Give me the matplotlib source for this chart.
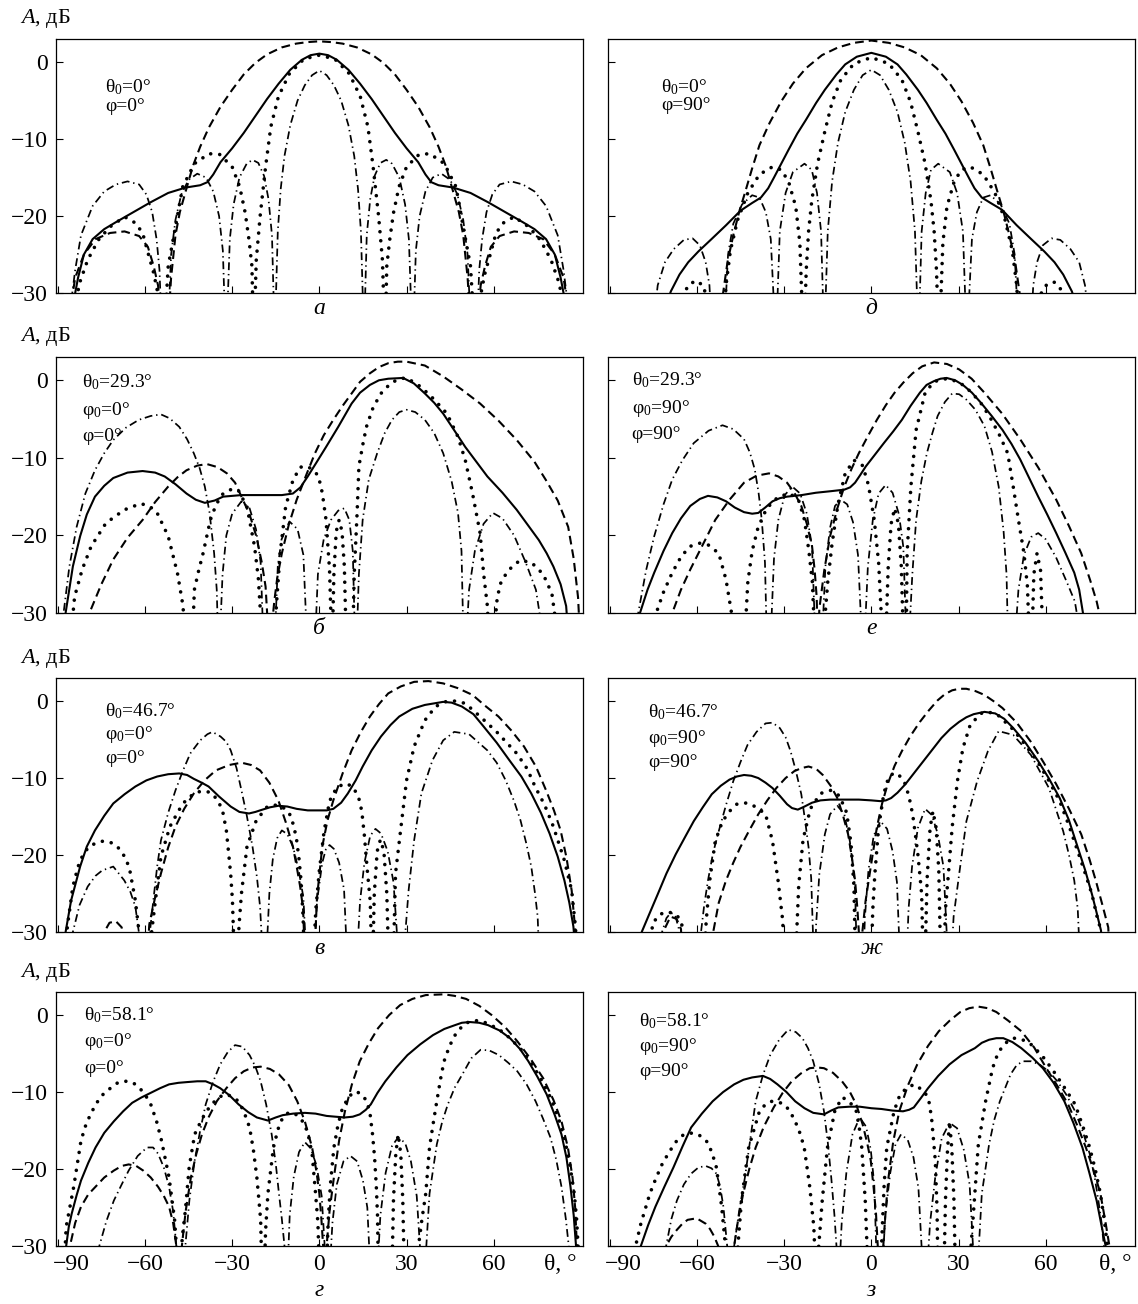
import matplotlib
matplotlib.use('Agg')
import matplotlib.pyplot as plt
from matplotlib.transforms import ScaledTranslation

plt.rcParams['font.family'] = ['Liberation Serif', 'DejaVu Serif']
plt.rcParams['mathtext.fontset'] = 'custom'
plt.rcParams['mathtext.rm'] = 'Liberation Serif'
plt.rcParams['mathtext.it'] = 'Liberation Serif:italic'
plt.rcParams['mathtext.bf'] = 'Liberation Serif:bold'

# ---- data: (theta, A dB); points below -30 are clipped ----

# panel а  (theta0=0, phi=0)
a_solid = [(-85,-32),(-83,-28),(-81,-25),(-78,-23),(-74,-21.7),(-70,-20.8),(-64,-19.5),(-58,-18.2),(-52,-17),(-46,-16.3),(-41,-16),(-38.5,-15.6),(-36.5,-14.6),(-34,-13),(-30,-11.2),(-26,-9.2),(-22,-7),(-18,-4.8),(-14,-2.8),(-10,-1),(-6,0.3),(-3,0.9),(0,1.1),(3,0.9),(6,0.3),(10,-1),(14,-2.8),(18,-4.8),(22,-7),(26,-9.2),(30,-11.2),(34,-13),(36.5,-14.6),(38.5,-15.6),(41,-16),(46,-16.3),(52,-17),(58,-18.2),(64,-19.5),(70,-20.8),(74,-21.7),(78,-23),(81,-25),(83,-28),(85,-32)]
a_dash = [(-86,-33),(-84,-28),(-81,-25),(-77,-23),(-72,-22.2),(-67,-22),(-62,-22.6),(-59,-24),(-57,-26.5),(-55.5,-29),(-54.5,-33),
          (-52,-34),(-51,-28),(-49.5,-22.5),(-48,-19.5),(-46,-16.8),(-43.5,-13.5),(-41,-11),(-38,-8.5),(-34,-5.8),(-30,-3.6),(-26,-1.6),(-22,-0.1),(-18,1),(-13,1.9),(-8,2.4),(-4,2.6),(0,2.7),
          (4,2.6),(8,2.4),(13,1.9),(18,1),(22,-0.1),(26,-1.6),(30,-3.6),(34,-5.8),(38,-8.5),(41,-11),(43.5,-13.5),(46,-16.8),(48,-19.5),(49.5,-22.5),(51,-28),(52,-34),
          (54.5,-33),(55.5,-29),(57,-26.5),(59,-24),(62,-22.6),(67,-22),(72,-22.2),(77,-23),(81,-25),(84,-28),(86,-33)]
a_dot = [(-85,-33),(-82.3,-28.5),(-79.7,-25.7),(-76,-23.1),(-72,-21.4),(-67,-20.1),(-63.3,-20.9),(-60.8,-22.2),(-59,-24.7),(-57,-27.4),(-55.8,-29.6),(-55,-33),
         (-53,-33),(-52,-26.5),(-49.5,-21.4),(-47,-16.2),(-43,-13.2),(-38,-11.9),(-34.3,-12),(-30,-13.6),(-27.4,-16.2),(-25.5,-19.6),(-24.2,-23.1),(-23.2,-26.5),(-22.8,-33),
         (-22.3,-33),(-21.7,-25.7),(-20.4,-20.1),(-18.5,-13.6),(-16.7,-8.4),(-14.1,-4.5),(-10.3,-1.5),(-5.3,0.4),(0,0.9),(5.3,0.4),(10.3,-1.5),(14.1,-4.5),(16.7,-8.4),(18.5,-13.6),(20.4,-20.1),(21.7,-25.7),(22.3,-33),
         (22.8,-33),(23.2,-26.5),(24.2,-23.1),(25.5,-19.6),(27.4,-16.2),(30,-13.6),(34.3,-12),(38,-11.9),(43,-13.2),(47,-16.2),(49.5,-21.4),(52,-26.5),(53,-33),
         (55,-33),(55.8,-29.6),(57,-27.4),(59,-24.7),(60.8,-22.2),(63.3,-20.9),(67,-20.1),(72,-21.4),(76,-23.1),(79.7,-25.7),(82.3,-28.5),(85,-33)]
a_dashdot = [(-86,-33),(-84,-27),(-82,-22.5),(-78,-18.7),(-74,-16.8),(-70,-15.9),(-66,-15.5),(-62,-15.9),(-59.5,-17.2),(-57.5,-19.5),(-56,-23),(-55,-27),(-54.3,-34),
             (-52,-34),(-51,-25),(-49.5,-20.5),(-47.5,-17.2),(-45,-15.3),(-42,-14.5),(-39,-15),(-36.5,-16.8),(-34.5,-20),(-33.2,-24.5),(-32.4,-34),
             (-31.8,-34),(-30.8,-23),(-29.5,-18.5),(-27.5,-15),(-25,-13.2),(-23,-12.7),(-21,-13.1),(-19,-14.8),(-17.5,-17.8),(-16.3,-22.5),(-15.5,-34),
             (-15.2,-34),(-14.3,-22),(-13.3,-16.5),(-12,-12.2),(-10,-8.2),(-7.5,-5),(-5,-3),(-2.5,-1.7),(0,-1.1),(2.5,-1.7),(5,-3),(7.5,-5),(10,-8.2),(12,-12.2),(13.3,-16.5),(14.3,-22),(15.2,-34),
             (15.5,-34),(16.3,-22.5),(17.5,-17.8),(19,-14.8),(21,-13.1),(23,-12.7),(25,-13.2),(27.5,-15),(29.5,-18.5),(30.8,-23),(31.8,-34),
             (32.4,-34),(33.2,-24.5),(34.5,-20),(36.5,-16.8),(39,-15),(42,-14.5),(45,-15.3),(47.5,-17.2),(49.5,-20.5),(51,-25),(52,-34),
             (54.3,-34),(55,-27),(56,-23),(57.5,-19.5),(59.5,-17.2),(62,-15.9),(66,-15.5),(70,-15.9),(74,-16.8),(78,-18.7),(82,-22.5),(84,-27),(86,-33)]

# panel д  (theta0=0, phi=90)
d_solid = [(-70,-31),(-69,-29.8),(-66,-27.6),(-63,-26),(-59.5,-24.6),(-55,-23),(-50,-21.2),(-45,-19.3),(-41,-18.3),(-38,-17.6),(-35.5,-16.4),(-33.5,-15),(-31,-13.2),(-28.5,-11.4),(-25.5,-9.3),(-22.5,-7.5),(-19,-5.3),(-16,-3.6),(-12,-1.6),(-9,-0.3),(-5,0.7),(0,1.2),(5,0.7),(9,-0.3),(12,-1.6),(16,-3.6),(19,-5.3),(22.5,-7.5),(25.5,-9.3),(28.5,-11.4),(31,-13.2),(33.5,-15),(35.5,-16.4),(38,-17.6),(41,-18.3),(45,-19.2),(50,-21.2),(55,-23),(59.5,-24.6),(63,-26),(66,-27.6),(69,-29.8),(70,-31)]
d_dash = [(-52,-34),(-51,-30),(-49.5,-26),(-47.5,-22.5),(-45.5,-19.5),(-43.5,-17),(-41,-13.8),(-38.5,-10.8),(-35,-7.9),(-31,-5.1),(-27,-2.8),(-22.5,-0.8),(-17,0.9),(-11.5,1.9),(-6,2.5),(0,2.8),
          (6,2.5),(11.5,1.9),(17,0.9),(22.5,-0.8),(27,-2.8),(31,-5.1),(35,-7.9),(38.5,-10.8),(41,-13.8),(43.5,-17),(45.5,-19.5),(47.5,-22.5),(49.5,-26),(51,-30),(52,-34)]
d_dot = [(-66,-34),(-64.5,-30),(-62.5,-28.8),(-60,-28.4),(-57.5,-29.2),(-56,-34),
         (-50.8,-34),(-50,-29),(-48.5,-24.5),(-46,-20.5),(-42.5,-17),(-38.5,-14.6),(-34,-13.6),(-31,-14),(-28.5,-15.5),(-26,-18.8),(-24.6,-23.5),(-23.6,-34),
         (-23,-34),(-22.4,-27),(-21.6,-22),(-20.5,-18),(-18.5,-13.2),(-16,-9),(-13.5,-5.2),(-10.5,-2.3),(-6,-0.2),(0,0.6),(6,-0.2),(10.5,-2.3),(13.5,-5.2),(16,-9),(18.5,-13.2),(20.5,-18),(21.6,-22),(22.4,-27),(23,-34),
         (23.6,-34),(24.6,-23.5),(26,-18.8),(28.5,-15.5),(31,-14),(34,-13.6),(38.5,-14.6),(42.5,-17),(46,-20.5),(48.5,-24.5),(50,-29),(50.8,-34),
         (57,-34),(58.5,-30),(60.5,-28.8),(63,-28.6),(65,-29.4),(66.5,-34)]
d_dashdot = [(-75,-34),(-73.5,-29),(-71,-26),(-68,-24.3),(-64.5,-23.1),(-61.5,-22.9),(-59,-23.8),(-57,-26),(-55.7,-29),(-55,-34),
             (-50.5,-34),(-49.3,-25),(-47.5,-21),(-44.5,-18.5),(-41,-17.3),(-38.5,-17.6),(-36.3,-19.5),(-34.6,-23),(-33.2,-34),
             (-32.6,-34),(-31.5,-22),(-29.5,-17),(-27,-14.3),(-23,-13.2),(-20.5,-14),(-18.7,-17),(-17.3,-22),(-16.4,-34),
             (-16,-34),(-15,-22),(-13.5,-15.5),(-11.5,-10.5),(-9,-6.5),(-6,-3.6),(-3,-1.7),(0,-1),(3,-1.7),(6,-3.6),(9,-6.5),(11.5,-10.5),(13.5,-15.5),(15,-22),(16,-34),
             (16.4,-34),(17.3,-22),(18.7,-17),(20.5,-14),(23,-13.2),(27,-14.3),(29.5,-17),(31.5,-22),(32.6,-34),
             (33.2,-34),(34.6,-23),(36.3,-19.5),(38.5,-17.6),(41,-17.3),(44.5,-18.5),(47.5,-21),(49.3,-25),(50.5,-34),
             (55,-34),(55.7,-29),(57,-26),(59,-23.8),(62,-22.9),(65,-23.1),(68.5,-24.3),(71.5,-26),(73.5,-29),(75,-34)]

# panel б  (theta0=29.3, phi0=0, phi=0)
b_solid = [(-88,-32),(-87.3,-30),(-84.8,-24),(-82.3,-20.1),(-80,-17.3),(-77.2,-15),(-74,-13.6),(-70.9,-12.6),(-66,-11.9),(-60.8,-11.7),(-56.5,-11.9),(-53.2,-12.4),(-49.5,-13.4),(-45.7,-14.6),(-42.5,-15.4),(-39.4,-15.8),(-36,-15.5),(-33.1,-15),(-26.8,-14.8),(-20,-14.8),(-12.9,-14.8),(-9.1,-14.6),(-6.5,-13.8),(-4,-12.4),(-1,-10.6),(2.3,-8.6),(6.5,-6),(11.1,-3),(14,-1.6),(17.4,-0.6),(20.5,0),(23.7,0.2),(28.8,0.3),(32.5,-0.4),(36.3,-1.7),(39.5,-2.9),(42.6,-4.3),(46.5,-6.5),(50.2,-8.6),(54,-10.5),(57.8,-12.4),(63,-14.5),(67.9,-16.7),(72,-18.8),(75.5,-20.6),(78.2,-22.3),(80.5,-24),(83,-26.3),(84.9,-29.1),(85.5,-32)]
b_dash = [(-80,-33),(-79.1,-30),(-75,-26.3),(-70.9,-23.1),(-66,-20.3),(-60.8,-18),(-56.5,-15.7),(-52,-13.7),(-48.8,-12.5),(-45.7,-11.6),(-42,-11),(-38.7,-10.8),(-35,-11.2),(-31.8,-12),(-29,-13.2),(-26.8,-15),(-24,-17.3),(-21.7,-20.1),(-19.8,-23.5),(-18.5,-26.6),(-17.5,-33),
          (-16.7,-33),(-15.5,-28.5),(-14.5,-25.5),(-12.9,-22.3),(-10.5,-18.6),(-7.8,-15.4),(-4.5,-12.2),(-1.5,-9.4),(1.5,-7.1),(4.8,-5.1),(8,-3.3),(11.1,-1.7),(14,-0.2),(17.4,0.9),(20.5,1.7),(23.7,2.2),(27,2.4),(30,2.4),(36.3,1.9),(42.6,0.5),(49,-1.2),(55.3,-3),(61.6,-5.2),(67.9,-7.7),(74,-10.5),(78,-12.9),(82,-15.5),(85.6,-18.9),(87.5,-23),(89,-28),(89.8,-34)]
b_dot = [(-85.5,-33),(-84.2,-27.9),(-81.6,-24.4),(-78.5,-21.4),(-73.4,-18.4),(-67.1,-16.7),(-61.5,-15.9),(-58.5,-16.2),(-55.8,-17.1),(-52,-20.1),(-48.8,-24.9),(-46.9,-29.1),(-46.3,-33),
         (-43.6,-33),(-43,-27),(-41.5,-24.5),(-40,-22.3),(-37.5,-18),(-35.5,-16),(-33.1,-14.6),(-30.5,-14.1),(-28,-14.1),(-24.9,-16.3),(-22.3,-21.4),(-21,-25.5),(-20.4,-29.1),(-20,-33),
         (-15.3,-33),(-14.8,-29.1),(-13.5,-22.3),(-11.6,-16.3),(-9.1,-12.9),(-6.6,-11.2),(-4,-11.1),(-1.5,-11.8),(-0.3,-12.4),(1,-14.5),(2.3,-18),(3.5,-24.4),(4.2,-33),
         (4.5,-33),(5,-25),(5.8,-19.5),(6.8,-18),(7.8,-19.5),(8.6,-24),(9.2,-33),
         (11.5,-33),(12,-25),(13,-17),(13.6,-11.1),(15,-8.2),(16.2,-6),(18.5,-3.5),(21.2,-1.7),(24.5,-0.4),(27.5,0.2),(30,0.3),(34,-0.6),(38,-1.9),(41,-3.1),(43.9,-4.3),(45.8,-5.8),(47.7,-7.3),(50.2,-10.3),(52.7,-14.6),(55.3,-19.7),(56.5,-24.9),(57.8,-29.1),(58.3,-33),
         (60,-33),(61.2,-28),(62.5,-26),(65,-24.5),(69,-23.2),(73,-23.5),(77,-25),(80,-27.5),(82,-33)]
b_dashdot = [(-89.5,-34),(-88,-30),(-86,-24),(-83.5,-18.9),(-80.5,-14.6),(-77.2,-11.6),(-74,-9.4),(-70.9,-7.7),(-66.5,-6.1),(-62.1,-5.1),(-58,-4.6),(-54.5,-4.4),(-51.5,-4.9),(-48.2,-6),(-45.5,-7.6),(-43.2,-9.4),(-41.2,-11.3),(-39.4,-13.7),(-37.8,-17),(-36.2,-22.3),(-35.3,-27),(-34.8,-34),
             (-34.3,-34),(-33.3,-25),(-32,-20),(-30,-17.2),(-26.8,-15.6),(-24,-16.5),(-21.8,-19.2),(-20.2,-23.5),(-19.2,-34),
             (-15.4,-34),(-14.3,-24),(-13,-20.5),(-10.3,-18.2),(-7.5,-19.2),(-5.5,-22.5),(-4.2,-34),
             (-1.5,-34),(-0.5,-25),(1.5,-20.5),(4,-18),(6.5,-16.8),(8.6,-16.5),(10.3,-18),(11.5,-22),(12.3,-34),
             (12.8,-34),(13.6,-25),(14.9,-18),(17,-12.8),(19.9,-9.4),(22.5,-6.8),(25,-5.1),(27.5,-4.1),(30,-3.8),(33,-4.1),(36.3,-5.1),(39.5,-6.8),(42.6,-9.4),(45.5,-13),(47.7,-17.1),(48.9,-22),(49.6,-34),
             (50.5,-34),(51.5,-27),(53.5,-22),(56.5,-18.5),(59.7,-17.1),(63,-17.8),(67,-20),(71,-23.5),(74.5,-27),(77.4,-34)]

# panel е  (theta0=29.3, phi0=90, phi=90)
e_solid = [(-80.5,-32),(-79.6,-30),(-77,-27),(-74.7,-24.8),(-71.5,-22),(-68.5,-19.7),(-65.5,-17.8),(-62.3,-16.2),(-59,-15.3),(-56.2,-14.9),(-53,-15.1),(-50,-15.6),(-47,-16.4),(-43.8,-17),(-41,-17.2),(-38.9,-17.1),(-36.5,-16.4),(-34,-15.6),(-31.5,-15.2),(-29,-15),(-24,-14.8),(-19.1,-14.5),(-14,-14.3),(-9.3,-14.1),(-7.3,-13.8),(-5.6,-13.2),(-3.8,-12.2),(-1.9,-11.1),(1,-9.7),(4.3,-8.1),(7.5,-6.6),(10.5,-5.1),(13.5,-3.3),(16.7,-1.6),(19,-0.6),(21.6,-0.1),(23.8,0.2),(25.9,0.3),(28.8,0),(31.5,-0.6),(34.6,-1.6),(37.7,-2.9),(41.4,-4.6),(45.1,-6.4),(48.2,-8.2),(51.2,-10.2),(54.3,-12.6),(57.4,-15),(60.5,-17.3),(63.6,-19.7),(66.7,-22.2),(69.8,-24.8),(71.5,-27),(72.8,-30),(73.3,-32)]
e_dash = [(-69.5,-33),(-68.5,-30),(-65.5,-27),(-62.3,-24.4),(-58,-21.2),(-53.7,-18),(-48.8,-15.4),(-43.8,-13.2),(-39.5,-12.3),(-35.2,-12),(-32,-12.4),(-29,-13.2),(-26.5,-14.5),(-24.1,-16.2),(-22.2,-18.5),(-20.4,-21.4),(-19.5,-24.5),(-18.8,-28),(-18.5,-33),
          (-18.2,-33),(-17.9,-29.5),(-16.2,-24.5),(-14.2,-20.1),(-11.7,-16.5),(-9.3,-13.7),(-6.8,-11.4),(-4.3,-9.4),(-1.2,-7.2),(1.9,-5.1),(5,-3.2),(8,-1.6),(11,-0.3),(14.2,0.9),(17.5,1.8),(21.6,2.3),(26,2.1),(30.2,1.4),(34.5,0.2),(38.9,-1.6),(45,-4.3),(51.2,-7.6),(57.5,-11.3),(63.6,-15.4),(68,-18.8),(72.2,-22.3),(75.3,-25.8),(77.5,-28.5),(78.4,-30),(79,-33)]
e_dot = [(-74.5,-33),(-74,-30),(-71.6,-27.4),(-68.5,-24.8),(-65.4,-22.7),(-62.3,-21.4),(-59,-21),(-56.2,-21.2),(-52.5,-22.3),(-50,-25.7),(-48.1,-30),(-47.6,-33),
         (-43.5,-33),(-42.5,-26),(-41,-22),(-39,-19),(-36,-16.5),(-32,-15),(-28,-14.6),(-25,-15.5),(-23,-18),(-21.5,-22),(-20.3,-26),(-19.5,-33),
         (-16.5,-33),(-15,-26),(-13.5,-21),(-11.5,-16),(-9,-12),(-6,-10.3),(-3,-11),(-1,-13.5),(1,-18),(2.5,-23.5),(3.8,-33),
         (5,-33),(5.8,-24),(6.8,-18.5),(8,-16.5),(9.3,-18.5),(10.3,-24),(11,-33),
         (12,-33),(12.3,-22.3),(13.6,-13.7),(15.4,-6.4),(18.5,-1.6),(21.5,-0.2),(24.1,0.1),(26,0.2),(29,-0.1),(32,-0.7),(35,-1.8),(38,-3.1),(41,-4.9),(44,-7),(46.9,-9.4),(48.8,-13.7),(50.6,-18),(52.5,-22.3),(53.7,-26.6),(54.3,-33),
         (55.3,-33),(55.9,-25),(57,-22.3),(58.2,-24.5),(59,-33)]
e_dashdot = [(-81,-33),(-80.2,-30),(-77.5,-24.5),(-74.7,-20.1),(-71.5,-16),(-68.5,-12.8),(-65,-10.3),(-61.1,-8.1),(-56,-6.5),(-51.2,-5.8),(-47.5,-6.3),(-43.8,-7.6),(-41.8,-9.3),(-40.1,-11.5),(-38.8,-14.5),(-37.7,-18),(-36.6,-23.5),(-36,-33),
             (-34.6,-33),(-33.5,-23),(-32,-18),(-29.8,-14.8),(-27.2,-13.7),(-24.5,-14.6),(-22.2,-17.2),(-20.4,-21.5),(-19.3,-33),
             (-16.9,-33),(-15.8,-24),(-14.2,-19),(-12.5,-16.2),(-10.5,-15.4),(-8.3,-16),(-6.3,-18.3),(-4.6,-22.5),(-3.3,-33),
             (-2.3,-33),(-1.2,-24),(0.5,-18),(2.5,-14.6),(4.9,-13.5),(7.3,-14.5),(9.5,-17.3),(11,-21.5),(12,-33),
             (13,-33),(14.1,-25),(15.4,-18),(17.2,-13),(19.1,-9.4),(21,-6.8),(22.8,-4.6),(25.3,-2.8),(27.8,-1.7),(30.2,-1.8),(32.7,-2.5),(35.8,-3.8),(38.9,-5.9),(41.5,-9.2),(43.8,-13.7),(45.5,-19.5),(46.5,-25),(47,-33),
             (49.5,-33),(50.6,-27),(52.5,-22.5),(55,-20.2),(57.4,-19.7),(60,-20.5),(63.5,-22.8),(67,-25.8),(70,-28.5),(72,-33)]

# panel в  (theta0=46.7, phi0=0, phi=0)
v_solid = [(-88,-32),(-87.3,-30),(-85.4,-25.9),(-82.3,-21.5),(-80,-18.9),(-77.2,-16.8),(-74,-14.9),(-70.9,-13.3),(-67,-12.1),(-63.3,-11.1),(-59.5,-10.3),(-55.8,-9.8),(-52,-9.5),(-48.2,-9.4),(-45.5,-9.6),(-43.2,-10.1),(-40.5,-10.6),(-38.1,-11.1),(-34.5,-12.4),(-30.5,-13.7),(-27.5,-14.4),(-24.2,-14.6),(-22,-14.4),(-20.4,-14.2),(-17,-13.8),(-14.1,-13.6),(-11,-13.7),(-7.8,-14),(-4,-14.2),(-0.3,-14.2),(2.5,-14.2),(4.8,-14),(7.5,-13.2),(9.8,-12),(12.5,-10.3),(14.9,-8.5),(18,-6.4),(21.2,-4.6),(24.5,-3.1),(27.5,-2),(32,-1),(36.3,-0.5),(42.6,-0.1),(45.5,-0.2),(49,-0.7),(53,-1.7),(56.5,-3.3),(61,-5.4),(65.4,-7.7),(69.5,-9.8),(72.9,-12),(76.2,-14.5),(79.2,-17.2),(82,-20.2),(84.3,-23.3),(86,-26.2),(87.4,-29.3),(88,-32)]
v_dash = [(-74.5,-33),(-74,-30),(-72.2,-28.8),(-70,-28.6),(-68,-29.4),(-67,-33),
          (-59.2,-33),(-58.5,-29),(-56.5,-25.5),(-54.5,-22.4),(-52,-19),(-49.5,-16.3),(-46.5,-14),(-43.2,-12),(-39.5,-10.3),(-35.6,-9),(-31,-8.3),(-26.8,-8),(-23.5,-8.3),(-20.4,-9),(-17.2,-10.6),(-14.1,-12.9),(-11.5,-15.8),(-9.1,-18.9),(-7.8,-21.5),(-6.6,-24.1),(-5.6,-27),(-5,-33),
          (-1.7,-33),(-0.8,-25.5),(1,-18.9),(2.8,-15.5),(4.8,-12.9),(8,-9.4),(11.1,-6.4),(14.3,-4),(17.4,-2),(20.5,-0.4),(23.7,1),(28,1.9),(32.6,2.5),(37.5,2.6),(42.6,2.3),(47.5,1.7),(52.7,0.8),(57,-0.6),(61.6,-2),(66,-3.8),(70.4,-5.9),(74.5,-8.5),(78,-11.6),(80.7,-14.2),(83,-16.8),(85,-20.3),(86.8,-24.6),(88.1,-30),(88.5,-33)]
v_dot = [(-87.2,-33),(-86.7,-29.3),(-84.8,-24.1),(-83,-21.5),(-81.6,-20.2),(-79.5,-19),(-77.2,-18.5),(-74.5,-18.2),(-72.2,-18.3),(-70,-18.7),(-68.4,-19.4),(-66.5,-20.5),(-65.2,-22),(-63.3,-25.9),(-62.1,-29.8),(-61.7,-33),
         (-58,-33),(-57.7,-30),(-56.4,-25.9),(-54.5,-20.2),(-51.4,-16.3),(-48.5,-14.3),(-46.9,-13.3),(-44.5,-12.4),(-41.9,-11.8),(-39,-11.7),(-36.8,-12),(-34.5,-13.2),(-33.1,-14.6),(-32,-16.8),(-31.2,-19.8),(-30.5,-22.5),(-29.9,-25.9),(-29.3,-33),
         (-28.2,-33),(-27.6,-29),(-26.8,-25),(-24.9,-18.9),(-21.7,-15.5),(-17.9,-13.7),(-14.8,-13.5),(-12.5,-13.8),(-10.3,-14.6),(-8.8,-16.2),(-7.8,-18.1),(-7,-20.5),(-6.3,-23.3),(-5.6,-28),(-5.2,-33),
         (-2,-33),(-1.2,-27),(0,-22),(1.6,-17),(3.5,-13),(6,-11.2),(9,-10.7),(11.5,-11.1),(13.5,-12.5),(14.6,-14.3),(15.5,-17.5),(16.5,-22),(17.5,-26),(18,-33),
         (18.4,-33),(18.9,-25),(19.9,-19.5),(21,-18),(22.2,-19.5),(23.2,-25),(23.8,-33),
         (25.5,-33),(26.2,-22.4),(28.1,-16.3),(30,-10.3),(32.6,-5.9),(36.3,-2.5),(40,-0.7),(43.9,0),(47,0),(50.2,-0.3),(55.3,-2),(61,-4),(67.9,-6.8),(71.5,-8.8),(74.2,-11.1),(77.5,-13.5),(80.5,-16.3),(84.3,-20.7),(86.8,-24.6),(88.1,-29.3),(88.6,-33)]
v_dashdot = [(-85.5,-33),(-84.8,-30),(-82.5,-26.5),(-79.7,-24.1),(-77,-22.7),(-74.7,-22),(-70.9,-21.5),(-67.1,-23.3),(-65,-24.8),(-63.3,-26.7),(-62.1,-30),(-61.8,-33),
             (-58.8,-33),(-58.3,-30),(-57,-25.5),(-55.8,-21.5),(-54.5,-18.1),(-52,-14.5),(-49.5,-11.6),(-47,-9.1),(-44.4,-6.8),(-41,-5.1),(-38.5,-4.3),(-36.8,-4),(-34,-4.6),(-32,-5.3),(-30.5,-6.4),(-28.5,-8.7),(-26.8,-11.6),(-25,-14.8),(-23,-18.9),(-21.5,-22.8),(-20.4,-26.7),(-19.5,-33),
             (-18.2,-33),(-17.2,-25),(-16,-20.5),(-14.5,-17.8),(-12.9,-16.8),(-11,-17.3),(-9,-19),(-7,-22.2),(-5.5,-25.5),(-4.5,-33),
             (-1.8,-33),(-0.8,-26),(1,-21),(2.2,-19.3),(3.5,-18.7),(5,-19.2),(6.8,-21),(8.5,-24.5),(9.5,-33),
             (13,-33),(14,-26),(15.5,-21),(17.5,-17.5),(19.3,-16.6),(21.2,-17.2),(23.5,-19.5),(25.5,-23.5),(27.2,-33),
             (29.2,-33),(29.6,-30),(30.7,-24.6),(32.6,-18.1),(35.1,-12),(38.9,-7.7),(42.6,-5.1),(46.4,-4),(51.5,-4.3),(57.8,-6.4),(61,-8),(64.1,-10.3),(67,-13),(69.2,-15.5),(71.2,-18.5),(72.9,-21.5),(74.2,-25),(75.1,-28),(75.6,-33)]

# panel ж  (theta0=46.7, phi0=90, phi=90)
zh_solid = [(-80,-32),(-79,-30),(-76.2,-27.5),(-73.5,-25.1),(-70.5,-22.4),(-67.3,-19.9),(-64,-17.6),(-61.1,-15.6),(-58,-13.8),(-54.9,-12.1),(-51.8,-11),(-48.8,-10.2),(-46.3,-9.8),(-43.8,-9.6),(-41.3,-9.7),(-38.9,-10),(-36.4,-10.6),(-34,-11.3),(-31.5,-12.3),(-29,-13.4),(-27.3,-13.9),(-25.3,-14.1),(-23,-13.7),(-20.4,-13.2),(-17.5,-12.9),(-14.2,-12.8),(-9,-12.8),(-4.3,-12.8),(0,-12.9),(3.1,-13),(5,-12.9),(6.8,-12.6),(9,-11.9),(11.7,-10.8),(14.8,-9.3),(17.9,-7.8),(21,-6.3),(24.1,-4.8),(27.2,-3.6),(30.2,-2.7),(32.7,-2.1),(35.2,-1.7),(38.9,-1.4),(42.6,-1.6),(45.7,-2.3),(48.8,-3.5),(53,-5.4),(57.4,-7.8),(61,-10),(64.8,-12.6),(68,-15.5),(71,-19),(73.5,-21.9),(75.9,-25.1),(77.5,-27.5),(79,-29.8),(79.5,-32)]
zh_dash = [(-72,-33),(-71,-29.5),(-69.1,-28),(-67,-28.3),(-65.5,-29.6),(-65,-33),
           (-54.8,-33),(-54.3,-29.8),(-52.5,-26.2),(-50,-23.3),(-47.5,-21),(-45.1,-19),(-42,-16.8),(-38.9,-14.7),(-35.8,-12.9),(-32.7,-11.3),(-29.5,-10),(-26.5,-9.1),(-24,-8.7),(-21.6,-8.5),(-19,-8.8),(-16.7,-9.6),(-14,-11),(-11.7,-12.6),(-9.8,-14.8),(-8,-17.3),(-6.7,-20.3),(-5.6,-23.3),(-4.8,-27),(-4.3,-30),(-4,-33),
           (-3.4,-33),(-3.1,-30),(-2,-26),(-0.6,-22.5),(1.9,-16.4),(3.7,-13.3),(5.6,-10.8),(8,-8.4),(10.5,-6.5),(13.5,-4.5),(16.7,-2.7),(19.8,-1.2),(22.8,0.1),(25.3,0.9),(27.8,1.4),(30.2,1.6),(32.7,1.6),(35.8,1.3),(38.9,0.8),(42,0),(45.1,-0.9),(50,-2.8),(54.9,-5.3),(59.3,-8),(63.6,-10.8),(68,-14),(72.2,-17.3),(75,-20.5),(77.2,-23.3),(79.5,-26.5),(81.5,-29.4),(82,-33)]
zh_dot = [(-76,-33),(-75.3,-28.9),(-73,-27.8),(-71,-27.4),(-68.5,-27.5),(-66.7,-27.9),(-64.8,-29.4),(-64.4,-33),
          (-57.5,-33),(-56.8,-28.5),(-55.6,-23.3),(-53.7,-18.2),(-51.2,-15.6),(-48.5,-14.2),(-46.3,-13.4),(-43.8,-13.2),(-41.4,-13.4),(-38.8,-14),(-36.4,-14.7),(-34,-18.2),(-32.1,-23.3),(-30.5,-28.5),(-30,-33),
          (-26,-33),(-25,-24),(-23.5,-18),(-21,-14),(-17.5,-12),(-14,-11.6),(-11,-12.3),(-8.5,-14.5),(-7,-18.5),(-6,-24),(-5.5,-33),
          (0,-33),(0.5,-27),(1.2,-22.5),(2.5,-16.4),(4.3,-12),(6,-9.8),(8,-9.3),(10,-9.8),(11.7,-10.8),(13,-12.5),(14.2,-14.7),(15.2,-17.5),(16,-19.9),(16.8,-23),(17.3,-25.1),(17.8,-33),
          (18.5,-33),(19.2,-23),(20.2,-16.5),(21.2,-14.3),(22.3,-16.5),(23.2,-22),(23.8,-33),
          (25,-33),(25.5,-27),(26.5,-22.5),(27.8,-16.4),(29.6,-10.4),(31.5,-6.1),(34,-3.1),(37.7,-1.6),(40.1,-1.4),(43.5,-1.8),(48.8,-3.7),(53,-5.7),(57.4,-8),(61,-10.3),(64.8,-13),(68,-16.2),(71,-19.5),(73.5,-22.3),(75.9,-25.1),(77.5,-27.8),(79,-29.8),(79.5,-33)]
zh_dashdot = [(-73,-33),(-72,-30),(-70.5,-28.2),(-69,-27.5),(-67.5,-27.8),(-66.3,-29.5),(-65.8,-33),
              (-58.8,-33),(-58.6,-30),(-57.5,-26.5),(-56.2,-23.3),(-54.5,-19.8),(-52.5,-16.9),(-50,-13.5),(-47.5,-10.4),(-45,-7.9),(-42.6,-5.7),(-39.5,-4),(-36.4,-2.9),(-34,-2.8),(-31.5,-3.5),(-29.5,-4.7),(-27.8,-6.5),(-26,-9),(-24.1,-12.1),(-22.8,-15.5),(-21.6,-19),(-20.7,-23),(-20.1,-30),(-19.9,-33),
              (-19.3,-33),(-19,-29),(-17.9,-22.5),(-16,-17.3),(-14.2,-14.7),(-11.7,-13.6),(-9.3,-14.7),(-7.4,-18.2),(-6.3,-21.5),(-5.6,-24.6),(-5,-33),
              (-2.7,-33),(-2.2,-28),(-1,-22),(0.8,-17.5),(3.1,-15.6),(5.4,-16.6),(7.3,-19.5),(8.8,-23.5),(9.8,-33),
              (12.2,-33),(12.8,-27),(14,-21.5),(16,-16.5),(18.5,-14),(20.8,-14.8),(22.8,-17.2),(24.8,-21.5),(26.3,-33),
              (27.6,-33),(28.3,-28),(30.2,-22.5),(32.7,-15.6),(36.4,-10.4),(40.1,-6.5),(43.8,-3.9),(48.8,-4.4),(54.9,-7),(61.1,-11.3),(66,-16.9),(68,-20),(69.8,-23.3),(71,-27),(71.7,-33)]

# panel г  (theta0=58.1, phi0=0, phi=0)
g_solid = [(-88,-33),(-87.1,-30),(-86.2,-27.5),(-85.2,-25.8),(-83.5,-23.4),(-82,-21.5),(-79.5,-19.2),(-77,-17.2),(-74,-15.3),(-70.7,-13.8),(-67.5,-12.5),(-64.4,-11.4),(-61.2,-10.7),(-58,-10.1),(-54.8,-9.5),(-51.7,-9),(-48.5,-8.8),(-45.4,-8.7),(-42,-8.6),(-39.1,-8.6),(-36.5,-9),(-34.1,-9.5),(-31,-10.4),(-27.8,-11.6),(-24.5,-12.6),(-21.5,-13.3),(-17.7,-13.7),(-15,-13.3),(-12.6,-13),(-9,-12.8),(-5,-12.7),(-1.3,-12.8),(2.5,-13.1),(5.5,-13.2),(8.8,-13.3),(11.5,-13.2),(13.9,-12.9),(16,-12.3),(17.7,-11.6),(20,-10.1),(22.7,-8.6),(26.5,-6.8),(30.3,-5.2),(34.7,-3.8),(39.1,-2.6),(43,-1.8),(46.7,-1.3),(49,-1),(51.7,-0.9),(55,-1),(58,-1.3),(62,-2),(65.6,-3),(69,-4.4),(71.9,-6),(75,-8),(78.2,-10.3),(81,-13),(83.3,-15.5),(85,-18.5),(86.4,-22.3),(87.5,-26),(88.3,-30),(88.6,-33)]
g_dash = [(-86.5,-33),(-85.8,-30),(-84,-27),(-82,-24.9),(-79.5,-23.3),(-77,-22.3),(-74,-21.1),(-70.7,-20.2),(-68,-19.6),(-65.6,-19.4),(-63,-19.6),(-60.6,-20.2),(-58,-21.1),(-55.5,-22.3),(-53.5,-23.5),(-51.7,-24.9),(-50.3,-27),(-49.2,-30),(-48.9,-33),
          (-47.6,-33),(-47.3,-30),(-46,-25.5),(-44.2,-21.1),(-42.3,-18),(-40.4,-15.5),(-38,-13.2),(-35.3,-11.2),(-32,-9.5),(-29,-8.2),(-26,-7.3),(-23,-6.8),(-20.2,-6.7),(-17,-7),(-13.9,-7.7),(-10.5,-9.1),(-7.6,-11.2),(-5,-13.8),(-2.5,-17.2),(-1,-20.3),(0,-23.2),(0.7,-26.5),(1.3,-30),(1.6,-33),
          (2.2,-33),(2.5,-30),(3.5,-25.5),(5,-21.1),(6.8,-16.3),(8.8,-12.5),(11.2,-9),(13.9,-6),(17,-3.7),(20.2,-1.7),(24,0),(27.8,1.3),(32,2.1),(36.6,2.6),(42.9,2.7),(46.5,2.5),(50.5,2.1),(55,1.2),(59.3,0),(64,-1.6),(68.1,-3.4),(72.5,-5.6),(77,-8.2),(80.5,-11),(83.3,-13.8),(85.5,-17.2),(87.1,-21.1),(88,-25),(88.6,-30),(88.9,-33)]
g_dot = [(-87.8,-33),(-87.1,-27.5),(-84.5,-22.3),(-82,-16.3),(-80.2,-14.1),(-78.2,-12.5),(-76.4,-11.3),(-74.4,-10.3),(-71.9,-9.5),(-69.4,-8.8),(-67.5,-8.6),(-65.6,-8.6),(-63.7,-8.9),(-61.8,-9.5),(-60,-10.3),(-58,-11.6),(-56,-13.8),(-54.3,-16.3),(-51.7,-21.1),(-49.8,-26.6),(-49.2,-30),(-49,-33),
         (-47.6,-33),(-47.2,-29),(-46.1,-25.4),(-44.8,-19.8),(-42.9,-15.5),(-40.4,-13.5),(-37.9,-12),(-35.3,-10.9),(-32.8,-10.3),(-30.3,-10.5),(-27.8,-11.2),(-26,-12.5),(-24,-14.6),(-22.7,-17.5),(-21.5,-21.1),(-20.8,-24),(-20.2,-26.6),(-19.8,-33),
         (-18.9,-33),(-18.5,-28),(-17.7,-23.2),(-15.8,-17.2),(-14.2,-14.8),(-12.6,-13.3),(-10.7,-12.7),(-8.8,-12.7),(-6.8,-13.3),(-5,-14.2),(-3.7,-15.8),(-2.5,-18),(-1.3,-23.2),(-0.5,-27),(0,-33),
         (2.5,-33),(3,-27),(3.8,-22),(5,-17.2),(6.3,-14.5),(7.6,-12.5),(10,-10.6),(12.6,-9.9),(14.5,-10.3),(16.4,-11.2),(17.5,-13),(18.3,-15.5),(19,-18.5),(19.6,-22.3),(20,-26),(20.3,-33),
         (25,-33),(25.5,-24),(26.3,-18),(27.1,-15.5),(28,-18),(28.7,-24),(29.2,-33),
         (33.8,-33),(34.1,-30),(35.3,-26.5),(36.6,-23.2),(37.9,-17.2),(39.2,-14),(40.4,-11.2),(41.7,-8.3),(42.9,-6),(44.8,-4),(46.7,-2.6),(49,-1.5),(51.7,-0.8),(55,-0.7),(58,-1.1),(62,-1.9),(65.6,-3),(69.5,-4.5),(73.2,-6.4),(76.5,-8.5),(79.5,-10.7),(82.2,-13.3),(84.5,-16.3),(86.2,-19.5),(87.7,-23.2),(88.5,-26.5),(89,-30),(89.3,-33)]
g_dashdot = [(-76.2,-33),(-75.7,-30),(-73.3,-26.8),(-70.7,-24.1),(-68,-22),(-65.6,-20.2),(-62.5,-18.3),(-59.3,-17.2),(-57.2,-17.2),(-55.5,-18),(-53.5,-19.8),(-51.7,-22.3),(-50.3,-25.5),(-49.2,-30),(-48.9,-33),
             (-46.4,-33),(-46.1,-30),(-44.7,-24),(-42.9,-18.9),(-41,-15),(-39.1,-11.6),(-36.6,-8.7),(-34.1,-6.4),(-31.5,-4.8),(-29,-3.9),(-26.5,-4.1),(-24,-5.2),(-22,-6.7),(-20.2,-8.6),(-18.3,-11.6),(-16.4,-15.5),(-15,-19.3),(-13.9,-23.2),(-12.9,-26.5),(-12,-30),(-11.7,-33),
             (-10.9,-33),(-10.2,-26),(-8.8,-21),(-7,-17.8),(-5,-16.5),(-3,-17.3),(-1,-19.5),(0.8,-23.5),(2.3,-33),
             (3.6,-33),(4.5,-27),(6,-22),(8.3,-19),(10.7,-18.3),(13,-19),(15,-21.5),(16.5,-25),(17.5,-33),
             (20,-33),(21,-26),(22.8,-20.5),(25,-17),(27.1,-15.9),(29.5,-16.6),(31.5,-19),(33.5,-23.5),(35.1,-33),
             (36.4,-33),(36.8,-30),(37.9,-23.2),(40.4,-16.8),(42.3,-13.8),(44.2,-11.6),(46.6,-9.4),(49.2,-7.7),(52.3,-5.6),(55.5,-4.5),(58.5,-4.6),(61.8,-5.2),(65,-6.2),(68.1,-7.3),(71.3,-9),(74.4,-11.2),(77,-13.5),(79.5,-15.9),(81.5,-18.8),(83.3,-22.3),(84.8,-26.5),(85.8,-30),(86.2,-33)]

# panel з  (theta0=58.1, phi0=90, phi=90)
z_solid = [(-80,-33),(-79.3,-30),(-76.8,-27.3),(-74.3,-24.9),(-71.2,-22.3),(-68.1,-19.8),(-65,-17.1),(-62,-14.6),(-58.3,-12.8),(-54.6,-11.2),(-51,-10),(-47.2,-9),(-44,-8.4),(-41,-8.1),(-37.3,-7.9),(-34.8,-8.3),(-32.3,-9),(-29.2,-10),(-26.2,-11.2),(-23,-12.1),(-20,-12.7),(-16.3,-12.9),(-13.8,-12.4),(-11.4,-12),(-7.5,-11.9),(-4,-11.9),(0,-12.1),(3.5,-12.2),(7.2,-12.4),(10.9,-12.5),(13,-12.3),(14.6,-12),(17,-10.8),(19.5,-9.5),(23,-7.9),(26.9,-6.4),(31,-5.2),(35.6,-4.3),(38,-3.6),(40.5,-3.2),(43,-3),(45.4,-3),(48.5,-3.5),(51.6,-4.3),(55.3,-5.5),(59,-6.9),(62.7,-8.8),(66.4,-11.2),(69.5,-14),(72.6,-17.2),(75,-20.5),(77.5,-24.1),(79,-27),(80.6,-30),(81,-33)]
z_dash = [(-71,-33),(-70.6,-30),(-68.8,-28.8),(-66.9,-27.9),(-65,-27.1),(-63.2,-26.6),(-60.1,-26.4),(-57,-27.1),(-55.5,-27.8),(-54,-28.8),(-52.7,-30),(-52.3,-33),
          (-47.6,-33),(-47.2,-30),(-45.8,-26.5),(-44.1,-23.2),(-42,-20),(-39.8,-17.2),(-37,-14.5),(-33.6,-12),(-30.5,-10.1),(-27.4,-8.6),(-24.3,-7.6),(-21.2,-6.9),(-18.7,-6.8),(-16.3,-6.9),(-13.2,-7.5),(-10.1,-8.6),(-7.5,-9.9),(-5.2,-11.6),(-3,-14.2),(-1.5,-16.5),(-0.2,-18.9),(0.8,-22.5),(1.6,-25.8),(2.2,-30),(2.4,-33),
          (3.8,-33),(4.1,-30),(5,-25),(5.9,-21.1),(7.5,-16.5),(9.6,-12.5),(12.5,-9.2),(15.8,-6.4),(19.5,-4),(23.2,-2.1),(27,-0.7),(30.6,0.4),(33.7,0.9),(36.8,1.1),(40,0.9),(43,0.4),(47,-0.7),(51.6,-2.1),(56,-4.2),(60.2,-6.9),(64,-9.2),(67.7,-11.6),(70.8,-14.3),(73.8,-17.2),(76.5,-20.2),(78.8,-23.2),(80.5,-26.8),(81.9,-30),(82.3,-33)]
z_dot = [(-81.6,-33),(-81.1,-30),(-79.3,-27.1),(-76.2,-23.2),(-74,-21.1),(-71.9,-19.3),(-69.4,-17.7),(-66.9,-16.3),(-64.8,-15.6),(-62.6,-15.3),(-59.5,-15.5),(-56.4,-16.5),(-54.8,-17.9),(-53.3,-19.8),(-51.5,-24.9),(-50.2,-30),(-50,-33),
         (-46.2,-33),(-45.9,-30),(-44.7,-24.1),(-42.2,-17.2),(-38.5,-12.5),(-36.2,-11.5),(-34.2,-11.2),(-32,-11.3),(-29.9,-11.6),(-28,-12.5),(-26.2,-13.8),(-24.5,-15.4),(-23.1,-17.2),(-21.2,-22.3),(-19.8,-27.5),(-19.2,-33),
         (-18.4,-33),(-18.1,-30),(-16.9,-24.1),(-15.1,-17.2),(-12.6,-12.5),(-10.1,-10.7),(-8.3,-11),(-6.8,-11.6),(-5.2,-12.5),(-4.2,-14.5),(-3.3,-17.2),(-2.1,-24.1),(-1.5,-30),(-1.2,-33),
         (3.2,-33),(3.5,-30),(4.4,-22),(5.3,-17.2),(7.8,-12.5),(9.5,-10.7),(11.5,-9.7),(14.6,-9),(18.3,-9.9),(19.8,-11.2),(20.7,-13.3),(22,-18.9),(22.6,-25.4),(22.9,-33),
         (25,-33),(25.5,-24),(26.2,-17.5),(26.9,-13.8),(27.7,-17.5),(28.4,-24),(28.9,-33),
         (34,-33),(34.3,-30),(35.6,-23.2),(36.8,-16.8),(39.3,-11.2),(41.7,-6.9),(43.5,-5),(45.4,-3.9),(47.3,-3.3),(49.1,-3),(52,-3.2),(55.3,-3.9),(59,-5.4),(62.7,-7.3),(66.4,-9.4),(70.1,-11.6),(72.8,-14.5),(75.1,-17.2),(77,-20),(78.8,-23.2),(80.2,-26.8),(81.2,-30),(81.6,-33)]
z_dashdot = [(-71,-33),(-70.6,-30),(-68.8,-26.5),(-66.9,-24.1),(-64.5,-22),(-62,-20.6),(-59.5,-19.8),(-57,-19.6),(-55,-19.9),(-53.3,-20.6),(-52,-22.3),(-50.9,-24.9),(-49.6,-30),(-49.3,-33),
             (-47.5,-33),(-47.2,-30),(-45.5,-25.5),(-43.5,-21.1),(-41.6,-16),(-39.8,-11.2),(-37.3,-7.8),(-34.8,-5.2),(-31.7,-3.2),(-28.6,-1.9),(-26,-2.2),(-23.7,-3),(-21.8,-4.3),(-20,-6),(-18,-8.9),(-16.3,-12.5),(-15,-16.5),(-13.8,-21.1),(-12.7,-26),(-12,-30),(-11.7,-33),
             (-11,-33),(-10.2,-27),(-8.6,-20.5),(-6.5,-15.5),(-4,-13.3),(-1.8,-14.5),(-0.2,-17.5),(1,-22),(1.9,-33),
             (3.8,-33),(4.8,-26),(6.5,-20.5),(8.3,-16.8),(10.2,-15.5),(12.5,-16.2),(14.5,-18.5),(16.2,-22.5),(17.7,-33),
             (19.2,-33),(20.2,-27),(22,-21),(24.2,-16),(26.9,-14),(29.5,-14.7),(31.8,-17.5),(33.8,-22),(35.4,-33),
             (36.6,-33),(37,-30),(38,-23.2),(40.5,-16.8),(42.3,-13.6),(44.2,-11.2),(47.9,-7.7),(50,-6.5),(52.2,-6),(55,-6),(57.8,-6.4),(61,-7.3),(64,-8.6),(67,-10.3),(70.1,-12.5),(72.8,-15.2),(75.1,-18),(76.8,-21),(78.1,-24.1),(79.2,-27),(80,-30),(80.3,-33)]

# annotation texts
a_text = ['θ$_0$=0°', 'φ=0°']
d_text = ['θ$_0$=0°', 'φ=90°']
b_text = ['θ$_0$=29.3°', 'φ$_0$=0°', 'φ=0°']
e_text = ['θ$_0$=29.3°', 'φ$_0$=90°', 'φ=90°']
v_text = ['θ$_0$=46.7°', 'φ$_0$=0°', 'φ=0°']
zh_text = ['θ$_0$=46.7°', 'φ$_0$=90°', 'φ=90°']
g_text = ['θ$_0$=58.1°', 'φ$_0$=0°', 'φ=0°']
z_text = ['θ$_0$=58.1°', 'φ$_0$=90°', 'φ=90°']

y_ticks = [-30, -20, -10, 0]
x_ticks = [-90, -60, -30, 0, 30, 60]
x_labels = ['−90', '−60', '−30', '0', '30', '60']

# ---- figure ----
W, H = 1138, 1304
fig = plt.figure(figsize=(W / 100, H / 100), dpi=100)

styles = [
    dict(color='black', lw=1.5, ls='-'),
    dict(color='black', lw=1.5, dashes=(4.2, 2.4)),
    dict(color='black', lw=2.6, dashes=(0.01, 2.5), dash_capstyle='round'),
    dict(color='black', lw=1.25, dashes=(4.5, 2.2, 0.8, 2.2)),
]

panels = [
    # letter, row, col, curves, texts, text x, text ys
    ('а', 0, 0, [a_solid, a_dash, a_dot, a_dashdot], a_text, -73.6, [-3.3, -5.8]),
    ('д', 0, 1, [d_solid, d_dash, d_dot, d_dashdot], d_text, -72.2, [-3.2, -5.7]),
    ('б', 1, 0, [b_solid, b_dash, b_dot, b_dashdot], b_text, -81.6, [-0.3, -3.9, -7.3]),
    ('е', 1, 1, [e_solid, e_dash, e_dot, e_dashdot], e_text, -82.5, [0.0, -3.7, -7.0]),
    ('в', 2, 0, [v_solid, v_dash, v_dot, v_dashdot], v_text, -73.7, [-1.3, -4.4, -7.5]),
    ('ж', 2, 1, [zh_solid, zh_dash, zh_dot, zh_dashdot], zh_text, -76.9, [-1.4, -4.9, -8.0]),
    ('г', 3, 0, [g_solid, g_dash, g_dot, g_dashdot], g_text, -81.0, [0.0, -3.4, -6.9]),
    ('з', 3, 1, [z_solid, z_dash, z_dot, z_dashdot], z_text, -80.0, [-0.8, -4.1, -7.3]),
]

rows_px = [(39, 293), (357, 613), (678, 932), (992, 1246)]
cols_px = [(56, 583), (608, 1135)]

for letter, r, c, curves, texts, tx, tys in panels:
    top, bot = rows_px[r]
    left, right = cols_px[c]
    ax = fig.add_axes([left / W, 1 - bot / H, (right - left) / W, (bot - top) / H])

    for pts, st in zip(curves, styles):
        ax.plot([p[0] for p in pts], [p[1] for p in pts], **st)

    ax.set_xlim(-90.6, 90.7)
    ax.set_ylim(-30, 3)
    ax.set_yticks(y_ticks)
    ax.set_xticks(x_ticks)
    ax.tick_params(direction='in', length=5, width=0.8, labelsize=17, pad=6)
    for s in ax.spines.values():
        s.set_linewidth(0.9)

    if c == 0:
        ax.set_yticklabels(['−30', '−20', '−10', '0'])
        fig.text(20 / W, 1 - (top - 20) / H, '$A$, дБ', fontsize=16, ha='left', va='center')
    else:
        ax.set_yticklabels([])

    if r == 3:
        ax.set_xticklabels(x_labels)
        lab = ax.get_xticklabels()[0]
        lab.set_transform(lab.get_transform() + ScaledTranslation(0.14, 0, fig.dpi_scale_trans))
        ax.annotate('θ, °', xy=(83 if c == 0 else 84, 0), xycoords=('data', 'axes fraction'),
                    xytext=(0, -19 * 0.72), textcoords='offset points',
                    ha='center', va='center', fontsize=17)
        off = -45
    else:
        ax.set_xticklabels([])
        off = -16
    ax.annotate(letter, xy=(0, 0), xycoords=('data', 'axes fraction'),
                xytext=(0, off * 0.72), textcoords='offset points',
                ha='center', va='center', fontsize=17, fontstyle='italic')

    for t, ty in zip(texts, tys):
        ax.text(tx, ty, t, fontsize=14, ha='left', va='center')

fig.savefig('out.png', dpi=100)
